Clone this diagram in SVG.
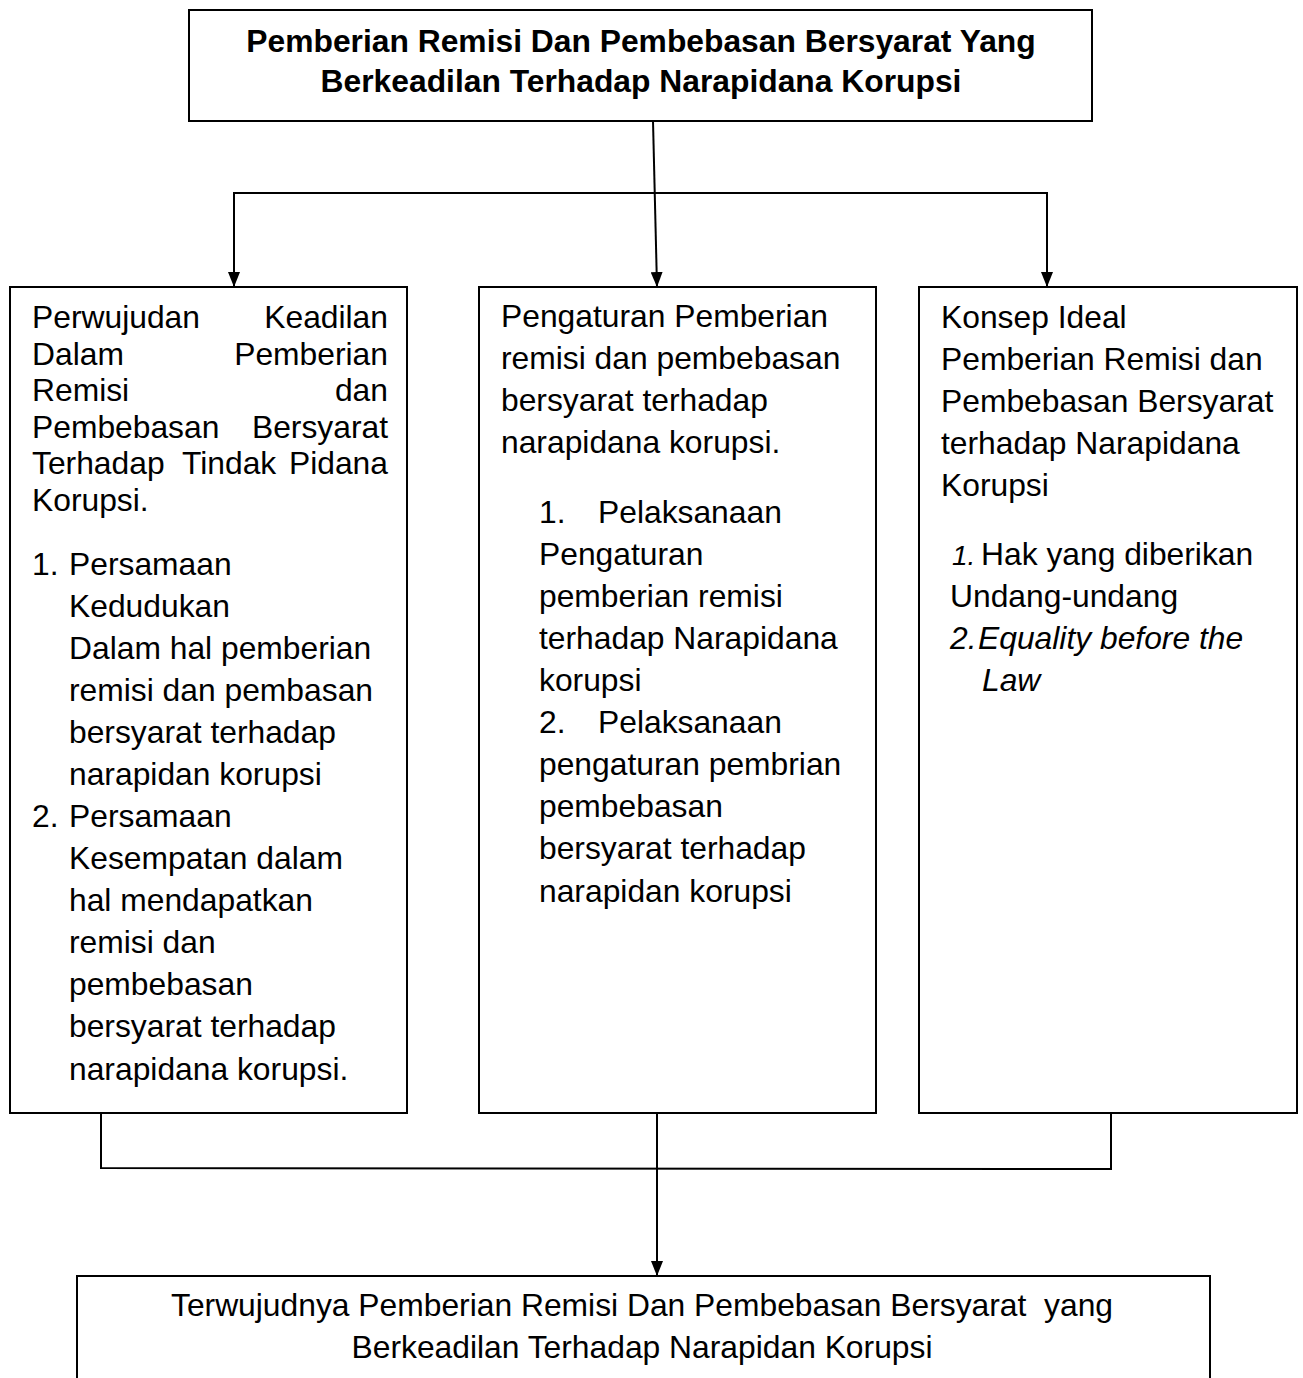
<svg xmlns="http://www.w3.org/2000/svg" width="1303" height="1378" viewBox="0 0 1303 1378">
<style>
  .box { fill: #ffffff; stroke: #000000; stroke-width: 2; }
  .t { font-family: "Liberation Sans", Arial, sans-serif; font-size: 31.8px; fill: #000000; }
  .b { font-weight: bold; }
  .i { font-style: italic; }
  .pre { white-space: pre; }
  .c { fill: none; stroke: #000000; stroke-width: 2; }
  .a { marker-end: url(#arr); }
</style>
<defs>
  <marker id="arr" viewBox="0 0 15 12" refX="15" refY="6" markerWidth="15" markerHeight="12" markerUnits="userSpaceOnUse" orient="auto">
    <path d="M0,0 L15,6 L0,12 z" fill="#000000"/>
  </marker>
</defs>
<rect width="1303" height="1378" fill="#ffffff"/>

<g id="connectors">
  <line class="c a" x1="653" y1="121" x2="657" y2="287"/>
  <line class="c" x1="233" y1="193" x2="1048" y2="193"/>
  <line class="c a" x1="234" y1="193" x2="234" y2="287"/>
  <line class="c a" x1="1047" y1="193" x2="1047" y2="287"/>
  <polyline class="c" points="101,1113 101,1168 1111,1169 1111,1113"/>
  <line class="c a" x1="657" y1="1113" x2="657" y2="1276"/>
</g>

<g id="node-top">
  <rect class="box" x="189" y="10" width="903" height="111"/>
  <text class="t b" x="641" y="52" text-anchor="middle">Pemberian Remisi Dan Pembebasan Bersyarat Yang</text>
  <text class="t b" x="641" y="92" text-anchor="middle">Berkeadilan Terhadap Narapidana Korupsi</text>
</g>

<g id="node-left">
  <rect class="box" x="10" y="287" width="397" height="826"/>
  <text class="t" x="32" y="328">Perwujudan</text>
  <text class="t" x="388" y="328" text-anchor="end">Keadilan</text>
  <text class="t" x="32" y="364.6">Dalam</text>
  <text class="t" x="388" y="364.6" text-anchor="end">Pemberian</text>
  <text class="t" x="32" y="401.2">Remisi</text>
  <text class="t" x="388" y="401.2" text-anchor="end">dan</text>
  <text class="t" x="32" y="437.8">Pembebasan</text>
  <text class="t" x="388" y="437.8" text-anchor="end">Bersyarat</text>
  <text class="t" x="32" y="474.4">Terhadap</text>
  <text class="t" x="182" y="474.4">Tindak</text>
  <text class="t" x="388" y="474.4" text-anchor="end">Pidana</text>
  <text class="t" x="32" y="511">Korupsi.</text>
  <text class="t" x="32" y="575">1.</text>
  <text class="t" x="69" y="575">Persamaan</text>
  <text class="t" x="69" y="617">Kedudukan</text>
  <text class="t" x="69" y="659">Dalam hal pemberian</text>
  <text class="t" x="69" y="701">remisi dan pembasan</text>
  <text class="t" x="69" y="743">bersyarat terhadap</text>
  <text class="t" x="69" y="785">narapidan korupsi</text>
  <text class="t" x="32" y="827">2.</text>
  <text class="t" x="69" y="827">Persamaan</text>
  <text class="t" x="69" y="869">Kesempatan dalam</text>
  <text class="t" x="69" y="911">hal mendapatkan</text>
  <text class="t" x="69" y="953">remisi dan</text>
  <text class="t" x="69" y="995">pembebasan</text>
  <text class="t" x="69" y="1037">bersyarat terhadap</text>
  <text class="t" x="69" y="1080">narapidana korupsi.</text>
</g>

<g id="node-middle">
  <rect class="box" x="479" y="287" width="397" height="826"/>
  <text class="t" x="501" y="327">Pengaturan Pemberian</text>
  <text class="t" x="501" y="369">remisi dan pembebasan</text>
  <text class="t" x="501" y="411">bersyarat terhadap</text>
  <text class="t" x="501" y="453">narapidana korupsi.</text>
  <text class="t" x="539" y="523">1.</text>
  <text class="t" x="598" y="523">Pelaksanaan</text>
  <text class="t" x="539" y="565">Pengaturan</text>
  <text class="t" x="539" y="607">pemberian remisi</text>
  <text class="t" x="539" y="649">terhadap Narapidana</text>
  <text class="t" x="539" y="691">korupsi</text>
  <text class="t" x="539" y="733">2.</text>
  <text class="t" x="598" y="733">Pelaksanaan</text>
  <text class="t" x="539" y="775">pengaturan pembrian</text>
  <text class="t" x="539" y="817">pembebasan</text>
  <text class="t" x="539" y="859">bersyarat terhadap</text>
  <text class="t" x="539" y="902">narapidan korupsi</text>
</g>

<g id="node-right">
  <rect class="box" x="919" y="287" width="378" height="826"/>
  <text class="t" x="941" y="328">Konsep Ideal</text>
  <text class="t" x="941" y="370">Pemberian Remisi dan</text>
  <text class="t" x="941" y="412">Pembebasan Bersyarat</text>
  <text class="t" x="941" y="454">terhadap Narapidana</text>
  <text class="t" x="941" y="496">Korupsi</text>
  <text class="t i" x="952" y="565" style="font-size:28px">1.</text>
  <text class="t" x="981" y="565">Hak yang diberikan</text>
  <text class="t" x="950" y="607">Undang-undang</text>
  <text class="t i" x="950" y="649">2.</text>
  <text class="t i" x="978" y="649">Equality before the</text>
  <text class="t i" x="982" y="691">Law</text>
</g>

<g id="node-bottom">
  <rect class="box" x="77" y="1276" width="1133" height="130"/>
  <text class="t pre" x="642" y="1316" text-anchor="middle">Terwujudnya Pemberian Remisi Dan Pembebasan Bersyarat  yang</text>
  <text class="t" x="642" y="1358" text-anchor="middle">Berkeadilan Terhadap Narapidan Korupsi</text>
</g>
</svg>
